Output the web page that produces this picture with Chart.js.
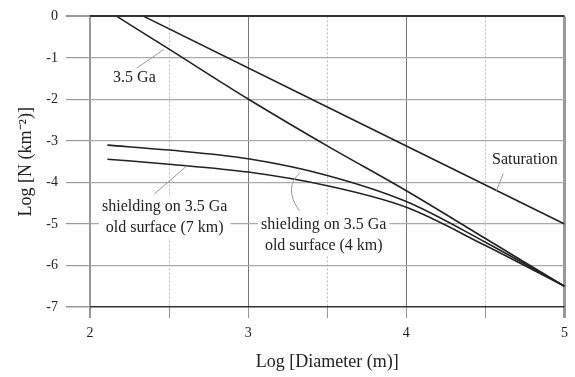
<!DOCTYPE html>
<html>
<head>
<meta charset="utf-8">
<script src="https://cdn.jsdelivr.net/npm/chart.js@4/dist/chart.umd.min.js"></script>
<style>
html,body{margin:0;padding:0;background:#fff;}
#wrap{width:575px;height:377px;}
</style>
</head>
<body>
<div id="wrap"><canvas id="c" width="575" height="377"></canvas></div>
<script>
// ---- data (log D in m, log N in km^-2) ----
const ga35X = [2.17, 2.5, 3.0, 3.5, 4.0, 4.5, 5.0];
const ga35Y = [0, -0.79, -1.99, -3.12, -4.2, -5.35, -6.5];
const satX = [2.34, 5.0];
const satY = [0, -5.0];
const shield4X = [2.11, 2.5, 3.0, 3.5, 4.0, 4.5, 5.0];
const shield4Y = [-3.10, -3.22, -3.43, -3.83, -4.46, -5.44, -6.5];
const shield7X = [2.11, 2.5, 3.0, 3.5, 4.0, 4.5, 5.0];
const shield7Y = [-3.44, -3.56, -3.75, -4.08, -4.60, -5.52, -6.5];
const xTicks = [2, 3, 4, 5];
const yTicks = [0, -1, -2, -3, -4, -5, -6, -7];
const xTitle = 'Log [Diameter (m)]';
const yTitle = 'Log [N (km\u207B\u00B2)]';
// annotations (data units)
const labels = [
  {lines: ['3.5 Ga'], x: 2.281, y: -1.49, leader: [[2.294, -1.25], [2.469, -0.79]]},
  {lines: ['Saturation'], x: 4.75, y: -3.456, leader: [[4.6125, -3.79], [4.567, -4.22]]},
  {lines: ['shielding on 3.5 Ga', 'old surface (7 km)'], x: 2.472, y: -4.58, leader: [[2.406, -4.28], [2.6125, -3.6]]},
  {lines: ['shielding on 3.5 Ga', 'old surface (4 km)'], x: 3.478, y: -5.02, curve: [[3.323, -4.68], [3.22, -4.12], [3.33, -3.76]]}
];

const toPts = (xs, ys) => xs.map((x, i) => ({x, y: ys[i]}));
const SERIF = '"Liberation Serif", "Times New Roman", serif';

const annot = {
  id: 'annot',
  afterDatasetsDraw(chart) {
    const {ctx, scales: {x, y}} = chart;
    ctx.save();
    ctx.strokeStyle = '#999';
    ctx.lineWidth = 1;
    labels.forEach(l => {
      if (l.leader) {
        ctx.beginPath();
        ctx.moveTo(x.getPixelForValue(l.leader[0][0]), y.getPixelForValue(l.leader[0][1]));
        ctx.lineTo(x.getPixelForValue(l.leader[1][0]), y.getPixelForValue(l.leader[1][1]));
        ctx.stroke();
      }
      if (l.curve) {
        const p = l.curve.map(q => [x.getPixelForValue(q[0]), y.getPixelForValue(q[1])]);
        ctx.beginPath();
        ctx.moveTo(p[0][0], p[0][1]);
        ctx.quadraticCurveTo(p[1][0], p[1][1], p[2][0], p[2][1]);
        ctx.stroke();
      }
    });
    ctx.font = '16px ' + SERIF;
    ctx.textAlign = 'center';
    ctx.textBaseline = 'middle';
    labels.forEach(l => {
      const cx = x.getPixelForValue(l.x);
      const cy = y.getPixelForValue(l.y);
      const lh = 21;
      let w = 0;
      l.lines.forEach(t => { w = Math.max(w, ctx.measureText(t).width); });
      ctx.fillStyle = '#fff';
      ctx.fillRect(cx - w / 2 - 3, cy - 10, w + 6, lh * (l.lines.length - 1) + 20);
      ctx.fillStyle = '#222';
      l.lines.forEach((t, i) => ctx.fillText(t, cx, cy + i * lh));
    });
    ctx.restore();
  }
};

const lineDs = (pts) => ({
  data: pts, borderColor: '#222', borderWidth: 1.6, pointRadius: 0,
  fill: false, showLine: true, cubicInterpolationMode: 'monotone'
});

new Chart(document.getElementById('c'), {
  type: 'scatter',
  data: {
    datasets: [
      lineDs(toPts(ga35X, ga35Y)),
      lineDs(toPts(satX, satY)),
      lineDs(toPts(shield4X, shield4Y)),
      lineDs(toPts(shield7X, shield7Y))
    ]
  },
  options: {
    responsive: false,
    animation: false,
    devicePixelRatio: 1,
    layout: {padding: {top: 15, right: 5, left: 0, bottom: 0}},
    plugins: {legend: {display: false}, tooltip: {enabled: false}},
    scales: {
      x: {
        type: 'linear', min: 2, max: 5,
        afterFit: s => { s.height = 70; },
        afterBuildTicks: s => { s.ticks = [2, 2.5, 3, 3.5, 4, 4.5, 5].map(v => ({value: v})); },
        ticks: {
          autoSkip: false, maxRotation: 0, padding: 7,
          color: '#222', font: {family: SERIF, size: 14},
          callback: v => xTicks.includes(v) ? String(v) : ''
        },
        grid: {
          drawOnChartArea: true, tickLength: 11,
          color: c => { const v = c.tick ? c.tick.value : 0; return (v === 2 || v === 5) ? '#999' : (Number.isInteger(v) ? '#777' : '#bbb'); },
          lineWidth: c => { const v = c.tick ? c.tick.value : 0; return v === 2 ? 2 : (v === 5 ? 3 : 1); },
          tickColor: '#999'
        },
        border: {display: false, dash: c => (c.tick && !Number.isInteger(c.tick.value)) ? [2, 2] : []},
        title: {display: true, text: xTitle, color: '#222', font: {family: SERIF, size: 18}, padding: {top: 0, bottom: 4}}
      },
      y: {
        type: 'linear', min: -7, max: 0,
        afterFit: s => { s.width = 90; },
        afterBuildTicks: s => { s.ticks = yTicks.map(v => ({value: v})); },
        ticks: {
          autoSkip: false, padding: 8,
          color: '#222', font: {family: SERIF, size: 14},
          callback: v => String(v)
        },
        grid: {
          tickLength: 24,
          color: c => { const v = c.tick ? c.tick.value : 1; return (v === 0 || v === -7) ? '#333' : '#aaa'; },
          lineWidth: c => { const v = c.tick ? c.tick.value : 1; return v === 0 ? 2 : (v === -7 ? 1.5 : 1.2); },
          tickColor: '#999'
        },
        border: {display: false},
        title: {display: true, text: yTitle, color: '#222', font: {family: SERIF, size: 18}, padding: {top: 15, bottom: 0}}
      }
    }
  },
  plugins: [annot]
});
</script>
</body>
</html>
